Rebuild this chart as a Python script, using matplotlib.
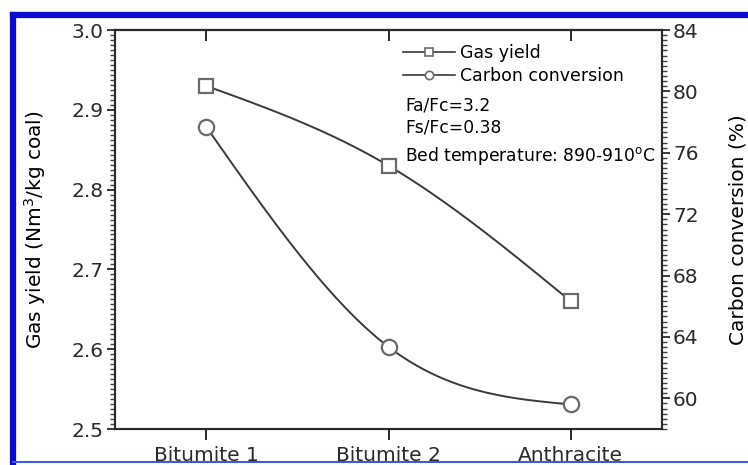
#plot.py


#COMMENT: Imports.

import numpy as np
import matplotlib
matplotlib.use('Agg')
import matplotlib.pyplot as plt
from matplotlib.ticker import MultipleLocator
from matplotlib.lines import Line2D


#COMMENT: Data.

coals = ['Bitumite 1', 'Bitumite 2', 'Anthracite']
gasYield = [2.93, 2.83, 2.66]
carbonConversion = [77.7, 63.35, 59.6]


#COMMENT: Natural cubic spline, used only to draw a smooth line through the points.

def naturalSpline(xs, ys, n = 200):
    xs = np.asarray(xs, float)
    ys = np.asarray(ys, float)
    k = len(xs)
    h = np.diff(xs)
    A = np.zeros((k, k))
    b = np.zeros(k)
    A[0, 0] = 1.0
    A[-1, -1] = 1.0
    for i in range(1, k - 1):
        A[i, i - 1] = h[i - 1]
        A[i, i] = 2 * (h[i - 1] + h[i])
        A[i, i + 1] = h[i]
        b[i] = 6 * ((ys[i + 1] - ys[i]) / h[i] - (ys[i] - ys[i - 1]) / h[i - 1])
    M = np.linalg.solve(A, b)
    xx = np.linspace(xs[0], xs[-1], n)
    yy = np.empty_like(xx)
    for j, x in enumerate(xx):
        i = min(np.searchsorted(xs, x, side = 'right') - 1, k - 2)
        t0 = xs[i + 1] - x
        t1 = x - xs[i]
        yy[j] = (M[i] * t0 ** 3 + M[i + 1] * t1 ** 3) / (6 * h[i]) \
            + (ys[i] / h[i] - M[i] * h[i] / 6) * t0 \
            + (ys[i + 1] / h[i] - M[i + 1] * h[i] / 6) * t1
    return xx, yy


#COMMENT: Figure and axes.

plt.rcParams['font.family'] = ['DejaVu Sans']
W, H = 748, 465
fig = plt.figure(figsize = (W / 100, H / 100), dpi = 100)
ax = fig.add_axes([115 / W, 1 - 429 / H, (662 - 115) / W, (429 - 30) / H])
ax2 = ax.twinx()

xpos = np.arange(len(coals))
lineColour = '#3a3a3a'
markColour = '#6a6a6a'
tickColour = '#2a2a2a'

xs, ys = naturalSpline(xpos, gasYield)
ax.plot(xs, ys, color = lineColour, lw = 1.4)
ax.plot(xpos, gasYield, ls = 'none', marker = 's', ms = 10, mfc = 'white',
        mec = markColour, mew = 1.6)

xs, ys = naturalSpline(xpos, carbonConversion)
ax2.plot(xs, ys, color = lineColour, lw = 1.4)
ax2.plot(xpos, carbonConversion, ls = 'none', marker = 'o', ms = 11, mfc = 'white',
         mec = markColour, mew = 1.6)

ax.set_xlim(-0.5, 2.5)
ax.set_ylim(2.5, 3.0)
ax2.set_ylim(58, 84)

#COMMENT: Ticks: bottom outward, top inward (via a secondary axis), y axes outward with dense minors.

ax.set_xticks(xpos)
ax.set_xticklabels(coals, fontsize = 14.5)
ax.tick_params(axis = 'x', direction = 'out', length = 8, width = 1.4, pad = 4,
               colors = tickColour, top = False)
topAx = ax.secondary_xaxis('top')
topAx.set_xticks(xpos)
topAx.set_xticklabels([])
topAx.tick_params(axis = 'x', direction = 'in', length = 8, width = 1.4, colors = tickColour)
topAx.spines['top'].set_linewidth(1.5)
topAx.spines['top'].set_color(tickColour)

ax.yaxis.set_major_locator(MultipleLocator(0.1))
ax.yaxis.set_minor_locator(MultipleLocator(0.00625))
ax2.yaxis.set_major_locator(MultipleLocator(4))
ax2.yaxis.set_minor_locator(MultipleLocator(1 / 3))

for a in (ax, ax2):
    a.tick_params(axis = 'y', which = 'major', direction = 'out', length = 6, width = 1.3,
                  labelsize = 14.5, pad = 2, colors = tickColour)
    a.tick_params(axis = 'y', which = 'minor', direction = 'out', length = 3.5, width = 1.0,
                  colors = '#404040')
    for s in a.spines.values():
        s.set_linewidth(1.5)
        s.set_color(tickColour)

ax.set_ylabel('Gas yield (Nm$^3$/kg coal)', fontsize = 14.5, labelpad = 17)
ax2.set_ylabel('Carbon conversion (%)', fontsize = 14.5, labelpad = 21)


#COMMENT: Legend and notes.

handles = [Line2D([], [], color = lineColour, lw = 1.2, marker = 's', ms = 6, mfc = 'white',
                  mec = markColour, mew = 1.2),
           Line2D([], [], color = lineColour, lw = 1.2, marker = 'o', ms = 6, mfc = 'white',
                  mec = markColour, mew = 1.2)]
fig.legend(handles, ['Gas yield', 'Carbon conversion'], loc = 'upper left',
           bbox_to_anchor = (403 / W, 1 - 44 / H), frameon = False, fontsize = 12.5,
           handlelength = 3.0, handletextpad = 0.3, labelspacing = 0.3, borderaxespad = 0,
           borderpad = 0)
notes = ['Fa/Fc=3.2', 'Fs/Fc=0.38', 'Bed temperature: 890-910$^{\\rm o}$C']
noteY = [105, 127, 156]
for txt, y in zip(notes, noteY):
    fig.text(405 / W, 1 - y / H, txt, fontsize = 12.3, va = 'center', ha = 'left')


#COMMENT: Blue frame of the cropped screenshot.

fig.add_artist(Line2D([13 / W, 1], [1 - 15 / H, 1 - 15 / H], color = '#0a0ad0', lw = 4.5))
fig.add_artist(Line2D([13 / W, 13 / W], [1 - 15 / H, 0], color = '#0a0ad0', lw = 4.5))
fig.add_artist(Line2D([13 / W, 1], [1 - 462 / H, 1 - 462 / H], color = '#3a5ae0', lw = 1.5))


#COMMENT: Save the image and clean up.

plt.savefig('out.png', dpi = 100)
plt.close()
